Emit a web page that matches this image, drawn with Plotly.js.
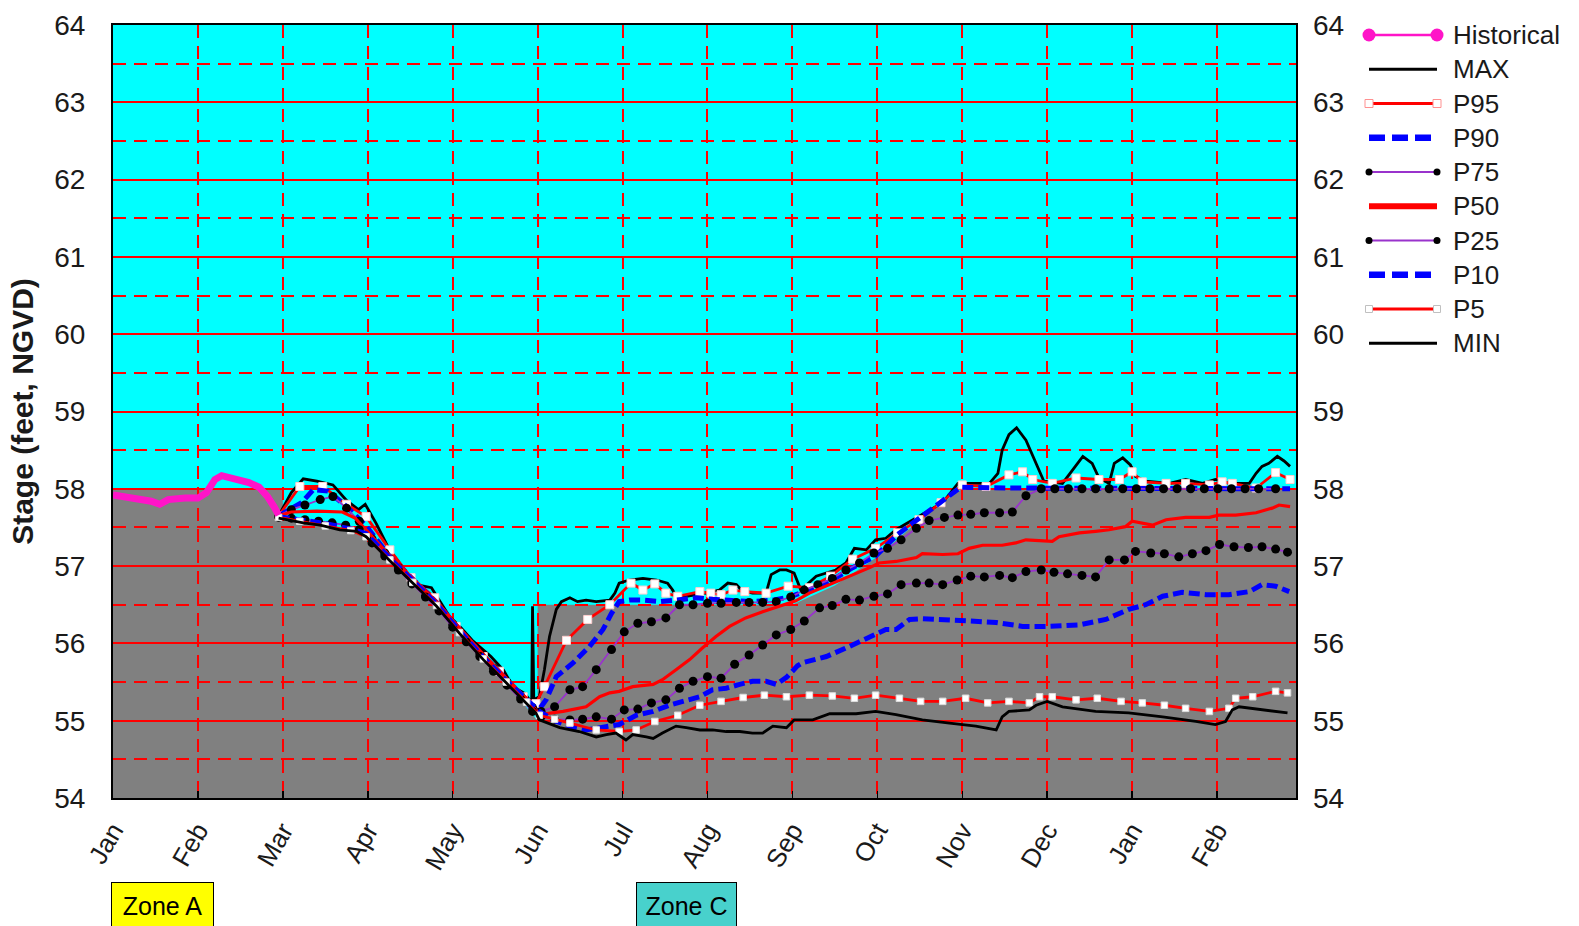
<!DOCTYPE html>
<html>
<head>
<meta charset="utf-8">
<script src="https://cdn.plot.ly/plotly-3.0.1.min.js"></script>
<style>
  html, body { margin: 0; padding: 0; background: #fff; }
  #chart { width: 1579px; height: 926px; }
</style>
</head>
<body>
<div id="chart"></div>
<script>
// Month axis: 0 = 1 Jan, one unit per month, running to the end of the following February.
const monthLabels = ['Jan','Feb','Mar','Apr','May','Jun','Jul','Aug','Sep','Oct','Nov','Dec','Jan','Feb'];
const monthTicks = [0,1,2,3,4,5,6,7,8,9,10,11,12,13];
const monthEnd = 13.93;

// Stage range (feet, NGVD)
const stageMin = 54;
const stageMax = 64;

// Regulation zone boundary (top edge of the grey zone), [month, stage]
const zoneBoundary = [
  [0, 58.0], [2.0, 58.0], [2.0, 57.62], [2.24, 57.56], [2.67, 57.47], [2.98, 57.38],
  [3.53, 56.78], [4.08, 56.13], [4.63, 55.49], [5.0, 55.0], [5.0, 56.5], [8.0, 56.5],
  [8.5, 56.75], [9.0, 57.12], [9.5, 57.6], [10.0, 58.0], [13.93, 58.0]
];

// Observed stage
const historical = [
  [0, 57.92], [0.15, 57.9], [0.3, 57.87], [0.45, 57.84], [0.55, 57.8], [0.65, 57.86],
  [0.85, 57.88], [1.0, 57.88], [1.1, 57.95], [1.2, 58.12], [1.28, 58.17], [1.45, 58.13],
  [1.6, 58.08], [1.72, 58.02], [1.82, 57.9], [1.9, 57.76], [1.95, 57.66]
];

// Projected stage percentiles
const maxStage = [
  [1.95, 57.65], [2.1, 57.95], [2.24, 58.13], [2.4, 58.1], [2.59, 58.05], [2.75, 57.85],
  [2.89, 57.73], [2.97, 57.8], [3.1, 57.55], [3.26, 57.2], [3.4, 57.0], [3.57, 56.76],
  [3.75, 56.72], [3.96, 56.35], [4.1, 56.2], [4.24, 56.03], [4.45, 55.83], [4.6, 55.65],
  [4.71, 55.44], [4.85, 55.35], [4.93, 55.23], [4.94, 56.48], [4.955, 55.27], [5.02, 55.31],
  [5.08, 55.66], [5.14, 56.09], [5.22, 56.44], [5.28, 56.54], [5.38, 56.59], [5.47, 56.54],
  [5.57, 56.56], [5.69, 56.54], [5.85, 56.56], [5.91, 56.65], [5.96, 56.78], [6.08, 56.82],
  [6.24, 56.84], [6.40, 56.82], [6.53, 56.78], [6.59, 56.69], [6.63, 56.61], [6.75, 56.61],
  [6.98, 56.65], [7.14, 56.69], [7.24, 56.78], [7.34, 56.76], [7.40, 56.69], [7.53, 56.65],
  [7.69, 56.65], [7.75, 56.89], [7.85, 56.95], [7.93, 56.95], [8.02, 56.91], [8.1, 56.69],
  [8.28, 56.87], [8.51, 56.95], [8.63, 57.04], [8.73, 57.23], [8.87, 57.21], [8.98, 57.34],
  [9.10, 57.36], [9.22, 57.47], [9.42, 57.60], [9.57, 57.69], [9.77, 57.82], [9.95, 58.07],
  [10.08, 58.07], [10.32, 58.07], [10.42, 58.2], [10.47, 58.5], [10.55, 58.7], [10.64, 58.79],
  [10.75, 58.63], [10.87, 58.33], [10.96, 58.1], [11.18, 58.07], [11.30, 58.25], [11.42, 58.42],
  [11.53, 58.33], [11.61, 58.14], [11.73, 58.07], [11.79, 58.33], [11.89, 58.40], [11.98, 58.31],
  [12.04, 58.16], [12.16, 58.10], [12.44, 58.07], [12.63, 58.12], [12.83, 58.07], [12.98, 58.12],
  [13.14, 58.07], [13.38, 58.07], [13.46, 58.2], [13.53, 58.29], [13.61, 58.33], [13.71, 58.42],
  [13.79, 58.36], [13.86, 58.29]
];

const p95 = [
  [1.95, 57.65], [2.2, 58.03], [2.47, 58.03], [2.75, 57.8], [2.98, 57.64], [3.26, 57.21],
  [3.51, 56.85], [3.79, 56.59], [4.04, 56.22], [4.36, 55.83], [4.55, 55.64], [4.83, 55.31],
  [4.98, 55.22], [5.08, 55.44], [5.34, 56.04], [5.59, 56.31], [5.85, 56.5], [6.10, 56.78],
  [6.24, 56.69], [6.38, 56.77], [6.51, 56.65], [6.65, 56.61], [6.91, 56.67], [7.04, 56.65],
  [7.16, 56.63], [7.30, 56.69], [7.44, 56.67], [7.69, 56.65], [7.95, 56.74], [8.2, 56.72],
  [8.45, 56.87], [8.71, 57.09], [8.98, 57.23], [9.24, 57.43], [9.49, 57.60], [9.75, 57.82],
  [10.0, 58.05], [10.28, 58.03], [10.55, 58.18], [10.71, 58.22], [10.83, 58.12], [11.06, 58.07],
  [11.34, 58.14], [11.61, 58.12], [11.85, 58.12], [12.0, 58.22], [12.12, 58.09], [12.40, 58.07],
  [12.63, 58.07], [12.91, 58.05], [13.06, 58.09], [13.18, 58.07], [13.46, 58.01], [13.69, 58.21],
  [13.86, 58.12]
];

const p90 = [
  [1.95, 57.65], [2.22, 57.82], [2.36, 57.99], [2.53, 57.97], [2.75, 57.77], [2.98, 57.52],
  [3.26, 57.12], [3.53, 56.83], [3.81, 56.53], [4.08, 56.18], [4.36, 55.84], [4.63, 55.54],
  [4.87, 55.28], [5.0, 55.12], [5.10, 55.27], [5.22, 55.57], [5.42, 55.75], [5.61, 55.96],
  [5.77, 56.18], [5.87, 56.39], [5.96, 56.54], [6.08, 56.56], [6.24, 56.56], [6.44, 56.54],
  [6.63, 56.56], [6.87, 56.59], [7.06, 56.57], [7.30, 56.56], [7.53, 56.54], [7.77, 56.56],
  [7.96, 56.6], [8.2, 56.69], [8.44, 56.80], [8.71, 56.98], [8.98, 57.13], [9.24, 57.41],
  [9.49, 57.62], [9.75, 57.82], [9.98, 58.02], [10.5, 58.01], [11.0, 58.01], [11.5, 58.0],
  [12.0, 58.01], [12.5, 58.0], [13.0, 58.01], [13.5, 58.0], [13.86, 58.0]
];

const p75 = [
  [1.95, 57.65], [2.1, 57.73], [2.26, 57.79], [2.44, 57.86], [2.59, 57.9], [2.75, 57.75],
  [2.9, 57.58], [3.05, 57.35], [3.2, 57.17], [3.36, 56.98], [3.52, 56.8], [3.68, 56.62],
  [3.84, 56.44], [4.0, 56.25], [4.16, 56.05], [4.32, 55.87], [4.48, 55.68], [4.64, 55.5],
  [4.8, 55.32], [4.94, 55.17], [5.04, 55.12], [5.2, 55.18], [5.38, 55.40], [5.53, 55.44],
  [5.69, 55.66], [5.87, 55.92], [6.02, 56.15], [6.18, 56.26], [6.34, 56.28], [6.51, 56.33],
  [6.67, 56.50], [6.83, 56.50], [7.0, 56.52], [7.16, 56.52], [7.34, 56.53], [7.49, 56.53],
  [7.65, 56.53], [7.81, 56.54], [7.98, 56.6], [8.14, 56.69], [8.30, 56.76], [8.47, 56.84],
  [8.63, 56.95], [8.79, 57.04], [8.96, 57.17], [9.12, 57.23], [9.28, 57.34], [9.46, 57.49],
  [9.61, 57.59], [9.79, 57.63], [9.95, 57.66], [10.1, 57.67], [10.26, 57.69], [10.44, 57.69],
  [10.59, 57.70], [10.75, 57.91], [10.93, 58.0], [11.09, 58.0], [11.25, 58.0], [11.41, 58.0],
  [11.57, 58.0], [11.73, 58.0], [11.89, 58.0], [12.05, 58.0], [12.21, 58.0], [12.37, 58.0],
  [12.53, 58.0], [12.69, 58.0], [12.85, 58.0], [13.01, 58.0], [13.17, 58.0], [13.33, 58.0],
  [13.49, 58.0], [13.69, 58.0]
];

const p50 = [
  [1.95, 57.65], [2.1, 57.7], [2.4, 57.71], [2.7, 57.7], [2.85, 57.62], [2.98, 57.47],
  [3.26, 57.13], [3.53, 56.84], [3.81, 56.54], [4.08, 56.2], [4.36, 55.86], [4.63, 55.55],
  [4.87, 55.29], [4.98, 55.14], [5.02, 55.08], [5.30, 55.12], [5.57, 55.18], [5.73, 55.31],
  [5.85, 55.36], [5.96, 55.38], [6.12, 55.44], [6.36, 55.47], [6.47, 55.53], [6.63, 55.66],
  [6.79, 55.79], [6.94, 55.94], [7.10, 56.09], [7.26, 56.22], [7.45, 56.33], [7.65, 56.41],
  [7.85, 56.48], [8.04, 56.55], [8.2, 56.65], [8.44, 56.76], [8.67, 56.87], [8.91, 56.98],
  [9.02, 57.04], [9.22, 57.06], [9.46, 57.11], [9.53, 57.16], [9.77, 57.15], [9.95, 57.16],
  [10.08, 57.23], [10.24, 57.27], [10.47, 57.27], [10.63, 57.30], [10.75, 57.34], [11.06, 57.32],
  [11.14, 57.38], [11.38, 57.43], [11.57, 57.45], [11.73, 57.47], [11.92, 57.51], [12.0, 57.58],
  [12.24, 57.53], [12.40, 57.60], [12.63, 57.63], [12.91, 57.63], [13.02, 57.66], [13.22, 57.66],
  [13.46, 57.69], [13.65, 57.75], [13.73, 57.79], [13.86, 57.77]
];

const p25 = [
  [1.95, 57.63], [2.1, 57.62], [2.26, 57.6], [2.42, 57.58], [2.58, 57.56], [2.74, 57.53],
  [2.9, 57.47], [3.05, 57.3], [3.2, 57.13], [3.36, 56.95], [3.52, 56.77], [3.68, 56.6],
  [3.84, 56.42], [4.0, 56.21], [4.16, 56.02], [4.32, 55.83], [4.48, 55.64], [4.64, 55.46],
  [4.8, 55.28], [4.94, 55.12], [5.04, 55.05], [5.2, 55.02], [5.38, 55.01], [5.53, 55.02],
  [5.69, 55.05], [5.87, 55.02], [6.02, 55.14], [6.18, 55.15], [6.34, 55.23], [6.51, 55.27],
  [6.67, 55.42], [6.83, 55.51], [7.0, 55.57], [7.16, 55.55], [7.32, 55.73], [7.49, 55.85],
  [7.65, 55.98], [7.81, 56.11], [7.98, 56.18], [8.14, 56.29], [8.32, 56.46], [8.47, 56.49],
  [8.63, 56.57], [8.79, 56.56], [8.96, 56.61], [9.12, 56.64], [9.28, 56.76], [9.46, 56.78],
  [9.61, 56.78], [9.77, 56.76], [9.94, 56.82], [10.1, 56.87], [10.26, 56.86], [10.44, 56.88],
  [10.59, 56.85], [10.75, 56.93], [10.93, 56.95], [11.08, 56.92], [11.24, 56.90], [11.41, 56.88],
  [11.57, 56.86], [11.73, 57.08], [11.91, 57.08], [12.04, 57.19], [12.22, 57.17], [12.38, 57.16],
  [12.55, 57.12], [12.71, 57.16], [12.87, 57.20], [13.03, 57.28], [13.20, 57.25], [13.37, 57.24],
  [13.53, 57.25], [13.69, 57.22], [13.83, 57.18]
];

const p10 = [
  [1.95, 57.64], [2.2, 57.6], [2.5, 57.55], [2.8, 57.48], [2.98, 57.42], [3.26, 57.1],
  [3.53, 56.81], [3.81, 56.51], [4.08, 56.16], [4.36, 55.82], [4.63, 55.52], [4.87, 55.26],
  [5.02, 55.12], [5.2, 55.0], [5.38, 54.93], [5.57, 54.88], [5.77, 54.91], [5.96, 54.95],
  [6.16, 55.07], [6.36, 55.12], [6.55, 55.20], [6.75, 55.27], [6.91, 55.31], [7.06, 55.40],
  [7.22, 55.42], [7.38, 55.47], [7.53, 55.51], [7.69, 55.51], [7.81, 55.47], [7.93, 55.56],
  [8.06, 55.71], [8.12, 55.75], [8.40, 55.83], [8.67, 55.96], [8.91, 56.09], [9.10, 56.18],
  [9.22, 56.18], [9.38, 56.31], [9.53, 56.32], [9.77, 56.30], [10.08, 56.29], [10.40, 56.27],
  [10.71, 56.22], [11.02, 56.22], [11.38, 56.24], [11.69, 56.31], [11.96, 56.44], [12.16, 56.50],
  [12.36, 56.61], [12.59, 56.66], [12.87, 56.63], [13.14, 56.63], [13.38, 56.67], [13.53, 56.76],
  [13.69, 56.74], [13.85, 56.67]
];

const p5 = [
  [1.95, 57.63], [2.2, 57.58], [2.5, 57.52], [2.8, 57.46], [2.98, 57.38], [3.26, 57.08],
  [3.53, 56.79], [3.81, 56.49], [4.08, 56.14], [4.36, 55.80], [4.63, 55.5], [4.87, 55.24],
  [5.02, 55.07], [5.2, 55.02], [5.38, 54.97], [5.69, 54.88], [5.96, 54.86], [6.16, 54.88],
  [6.38, 54.99], [6.65, 55.07], [6.91, 55.20], [7.16, 55.25], [7.42, 55.30], [7.67, 55.33],
  [7.93, 55.31], [8.2, 55.33], [8.47, 55.32], [8.73, 55.29], [8.98, 55.33], [9.26, 55.29],
  [9.51, 55.25], [9.77, 55.25], [10.04, 55.29], [10.30, 55.23], [10.55, 55.25], [10.79, 55.23],
  [10.91, 55.31], [11.06, 55.31], [11.34, 55.27], [11.59, 55.29], [11.87, 55.25], [12.12, 55.23],
  [12.38, 55.20], [12.63, 55.16], [12.91, 55.12], [13.14, 55.16], [13.22, 55.29], [13.42, 55.31],
  [13.69, 55.38], [13.83, 55.36]
];

const minStage = [
  [1.95, 57.62], [2.24, 57.56], [2.44, 57.53], [2.67, 57.47], [2.87, 57.45], [2.98, 57.38],
  [3.26, 57.07], [3.53, 56.78], [3.81, 56.48], [4.08, 56.13], [4.36, 55.79], [4.63, 55.49],
  [4.87, 55.23], [4.98, 55.10], [5.02, 55.01], [5.26, 54.91], [5.49, 54.86], [5.69, 54.79],
  [5.81, 54.82], [5.92, 54.84], [6.04, 54.75], [6.12, 54.82], [6.28, 54.79], [6.36, 54.77],
  [6.47, 54.84], [6.63, 54.93], [6.75, 54.91], [6.91, 54.88], [7.06, 54.88], [7.22, 54.86],
  [7.38, 54.86], [7.53, 54.84], [7.65, 54.84], [7.77, 54.93], [7.93, 54.91], [8.02, 55.01],
  [8.24, 55.01], [8.44, 55.09], [8.75, 55.09], [8.98, 55.12], [9.22, 55.08], [9.53, 55.01],
  [9.85, 54.97], [10.16, 54.93], [10.40, 54.88], [10.47, 55.05], [10.55, 55.12], [10.79, 55.14],
  [10.87, 55.2], [11.0, 55.25], [11.18, 55.18], [11.57, 55.12], [11.96, 55.10], [12.36, 55.05],
  [12.75, 54.99], [12.98, 54.95], [13.10, 54.99], [13.18, 55.14], [13.26, 55.18], [13.53, 55.14],
  [13.83, 55.10]
];

const legendNames = ['Historical', 'MAX', 'P95', 'P90', 'P75', 'P50', 'P25', 'P10', 'P5', 'MIN'];

// ---- styles --------------------------------------------------------------
const RED = '#ff0000', BLUE = '#0000ff', PURPLE = '#9933cc', MAGENTA = '#ff14c8';

const styles = {
  Historical: { plot: { mode: 'lines', line: { color: MAGENTA, width: 7 } },
                key:  { mode: 'lines+markers', line: { color: MAGENTA, width: 2.5 },
                        marker: { symbol: 'circle', size: 13, color: MAGENTA } } },
  MAX: { plot: { mode: 'lines', line: { color: '#000', width: 2.8 } },
         key:  { mode: 'lines', line: { color: '#000', width: 3.2 } } },
  P95: { plot: { mode: 'lines+markers', line: { color: RED, width: 2.8 },
                 marker: { symbol: 'square', size: 8, color: '#fff', line: { color: '#ffd0d0', width: 1 } } },
         key:  { mode: 'lines+markers', line: { color: RED, width: 3.2 },
                 marker: { symbol: 'square', size: 8, color: '#fff', line: { color: '#ff9090', width: 1 } } } },
  P90: { plot: { mode: 'lines', line: { color: BLUE, width: 5, dash: '11px,5px' } },
         key:  { mode: 'lines', line: { color: BLUE, width: 6.5, dash: '16px,7px' } } },
  P75: { plot: { mode: 'lines+markers', line: { color: PURPLE, width: 1.8 },
                 marker: { symbol: 'circle', size: 9, color: '#000' } },
         key:  { mode: 'lines+markers', line: { color: PURPLE, width: 2.2 },
                 marker: { symbol: 'circle', size: 7, color: '#000' } } },
  P50: { plot: { mode: 'lines', line: { color: RED, width: 3.2 } },
         key:  { mode: 'lines', line: { color: RED, width: 6 } } },
  P25: { plot: { mode: 'lines+markers', line: { color: PURPLE, width: 1.8 },
                 marker: { symbol: 'circle', size: 9, color: '#000' } },
         key:  { mode: 'lines+markers', line: { color: PURPLE, width: 2.2 },
                 marker: { symbol: 'circle', size: 7, color: '#000' } } },
  P10: { plot: { mode: 'lines', line: { color: BLUE, width: 5, dash: '11px,5px' } },
         key:  { mode: 'lines', line: { color: BLUE, width: 6.5, dash: '16px,7px' } } },
  P5:  { plot: { mode: 'lines+markers', line: { color: RED, width: 2.8 },
                 marker: { symbol: 'square', size: 6.5, color: '#fff', line: { color: '#dddddd', width: 1 } } },
         key:  { mode: 'lines+markers', line: { color: RED, width: 3.2 },
                 marker: { symbol: 'square', size: 7, color: '#fff', line: { color: '#c0c0c0', width: 1 } } } },
  MIN: { plot: { mode: 'lines', line: { color: '#000', width: 2.8 } },
         key:  { mode: 'lines', line: { color: '#000', width: 3.2 } } }
};

const seriesData = {
  Historical: historical, MAX: maxStage, P95: p95, P90: p90, P75: p75,
  P50: p50, P25: p25, P10: p10, P5: p5, MIN: minStage
};

// ---- traces --------------------------------------------------------------
const traces = [];
legendNames.forEach(name => {
  const pts = seriesData[name];
  traces.push(Object.assign({
    type: 'scatter', name: name,
    x: pts.map(p => p[0]), y: pts.map(p => p[1]),
    xaxis: 'x', yaxis: name === 'Historical' ? 'y2' : 'y',
    hoverinfo: 'x+y+name', showlegend: false
  }, styles[name].plot));
});

// Key samples, one row per series, in their own small subplot at the right
legendNames.forEach((name, row) => {
  traces.push(Object.assign({
    type: 'scatter', name: name,
    x: [0, 1], y: [row, row],
    xaxis: 'x3', yaxis: 'y3', cliponaxis: false,
    hoverinfo: 'skip', showlegend: false
  }, styles[name].key));
});

// ---- layout --------------------------------------------------------------
const W = 1579, H = 926;
const M = { l: 113, r: 0, t: 25, b: 128 };
const plotW = W - M.l - M.r, plotH = H - M.t - M.b;
const px2fx = x => (x - M.l) / plotW;
const px2fy = y => (H - M.b - y) / plotH;

const rowTop = 35, rowStep = 34.25;
const keyTopVal = (M.t - rowTop) / rowStep;
const keyDomBottom = 0.55;
const keyBotVal = ((H - M.b - keyDomBottom * plotH) - rowTop) / rowStep;

const zonePath = 'M ' + zoneBoundary.map(p => p[0] + ',' + p[1]).join(' L ') +
  ' L ' + monthEnd + ',' + stageMin + ' L 0,' + stageMin + ' Z';

const gridDash = '13px,8px';
const GRID_W = 2;
const FONT = 'Liberation Sans, Arial, Helvetica, sans-serif';

const annotations = legendNames.map((name, row) => ({
  xref: 'paper', yref: 'y3', x: px2fx(1451), y: row,
  xanchor: 'left', yanchor: 'middle', showarrow: false,
  text: name, font: { size: 26, color: '#1a1a1a', family: FONT }
}));

annotations.push({
  xref: 'paper', yref: 'paper', x: px2fx(111), y: px2fy(882),
  xanchor: 'left', yanchor: 'top', showarrow: false, text: 'Zone A',
  bgcolor: '#ffff00', bordercolor: '#000', borderwidth: 1, borderpad: 1,
  width: 99, height: 44, font: { size: 25, color: '#000', family: FONT }
});
annotations.push({
  xref: 'paper', yref: 'paper', x: px2fx(636), y: px2fy(882),
  xanchor: 'left', yanchor: 'top', showarrow: false, text: 'Zone C',
  bgcolor: '#48d1cc', bordercolor: '#000', borderwidth: 1, borderpad: 1,
  width: 97, height: 44, font: { size: 25, color: '#000', family: FONT }
});

const layout = {
  width: W, height: H,
  margin: Object.assign({ pad: 0 }, M),
  paper_bgcolor: '#ffffff', plot_bgcolor: '#ffffff',
  showlegend: false,
  font: { family: FONT, size: 26, color: '#1a1a1a' },
  xaxis: {
    domain: [0, px2fx(1296)], range: [0, monthEnd],
    tickmode: 'array', tickvals: monthTicks, ticktext: monthLabels,
    tickangle: -60, tickfont: { size: 26 },
    ticks: 'inside', ticklen: 7, tickwidth: 1.5, tickcolor: '#000',
    ticklabelstandoff: 5,
    showgrid: true, gridcolor: RED, gridwidth: GRID_W, griddash: gridDash,
    showline: true, mirror: true, linecolor: '#000', linewidth: 2,
    zeroline: false, fixedrange: true
  },
  yaxis: {
    range: [stageMin, stageMax], tickmode: 'linear', tick0: stageMin, dtick: 1,
    ticks: '', ticklabelstandoff: 20, tickfont: { size: 28 },
    showgrid: true, gridcolor: RED, gridwidth: GRID_W,
    minor: { dtick: 0.5, showgrid: true, gridcolor: RED, gridwidth: GRID_W, griddash: gridDash, ticks: '' },
    showline: true, mirror: true, linecolor: '#000', linewidth: 2,
    zeroline: false, fixedrange: true,
    title: { text: '<b>Stage (feet, NGVD)</b>', font: { size: 30, color: '#1a1a1a' }, standoff: 12 }
  },
  yaxis2: {
    overlaying: 'y', side: 'right', anchor: 'x',
    range: [stageMin, stageMax], tickmode: 'linear', tick0: stageMin, dtick: 1,
    ticks: '', ticklabelstandoff: 16, tickfont: { size: 28 },
    showgrid: false, zeroline: false, showline: false, fixedrange: true
  },
  xaxis3: { domain: [px2fx(1369), px2fx(1437)], range: [0, 1], anchor: 'y3', visible: false, fixedrange: true },
  yaxis3: { domain: [keyDomBottom, 1], range: [keyBotVal, keyTopVal], anchor: 'x3', visible: false, fixedrange: true },
  shapes: [
    { type: 'rect', xref: 'x domain', yref: 'y domain', x0: 0, x1: 1, y0: 0, y1: 1,
      fillcolor: '#00ffff', line: { width: 0 }, layer: 'below' },
    { type: 'path', xref: 'x', yref: 'y', path: zonePath,
      fillcolor: '#808080', line: { width: 0 }, layer: 'below' }
  ],
  annotations: annotations
};

Plotly.newPlot('chart', traces, layout, { displayModeBar: false, staticPlot: true });
</script>
</body>
</html>
